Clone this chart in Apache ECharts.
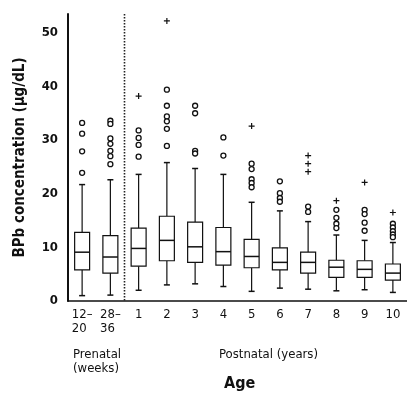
<!DOCTYPE html>
<html>
<head>
<meta charset="utf-8">
<script src="https://cdn.jsdelivr.net/npm/echarts@6/dist/echarts.min.js"></script>
<style>
  html, body { margin: 0; padding: 0; background: #fff; }
  #chart { width: 407px; height: 394px; }
</style>
</head>
<body>
<div id="chart"></div>
<script>
const FONT = "'Liberation Sans Narrow', 'DejaVu Sans Condensed', sans-serif";

const categories = ['12–\n20\u2002', '28–\n36\u2002', '1', '2', '3', '4', '5', '6', '7', '8', '9', '10'];
// box statistics per age group (µg/dL)
const whiskerLow  = [1.0, 1.1, 2.0, 3.0, 3.2, 2.7, 1.8, 2.4, 2.2, 1.9, 2.1, 1.6];
const quartile1   = [5.8, 5.2, 6.5, 7.5, 7.2, 6.7, 6.2, 5.8, 5.2, 4.4, 4.4, 3.9];
const medians     = [9.1, 8.2, 9.8, 11.3, 10.1, 9.2, 8.3, 7.2, 7.2, 6.3, 5.9, 5.2];
const quartile3   = [12.8, 12.2, 13.6, 15.8, 14.7, 13.7, 11.5, 9.9, 9.1, 7.6, 7.5, 6.9];
const whiskerHigh = [21.7, 22.6, 23.6, 25.8, 24.7, 23.6, 18.4, 16.8, 14.8, 12.3, 11.3, 10.9];
// outliers (circles) and extreme values (plus signs)
const outliers = [
  [33.2, 31.2, 27.9, 23.9],
  [33.6, 33.0, 30.3, 29.3, 28.0, 27.0, 25.5],
  [31.8, 30.4, 29.1, 26.9],
  [39.4, 36.4, 34.4, 33.5, 32.1, 28.9],
  [36.4, 35.0, 28.0, 27.5],
  [30.5, 27.1],
  [25.6, 24.6, 22.7, 22.0, 21.2],
  [22.3, 20.1, 19.2, 18.5],
  [17.6, 16.6],
  [17.0, 15.5, 14.4, 13.6],
  [17.0, 16.2, 14.6, 13.1],
  [14.4, 13.7, 13.0, 12.4, 11.9]
];
const extremes = [
  [], [], [38.2], [52.2], [], [], [32.6], [], [27.1, 25.6, 24.1], [18.7], [22.1], [16.5]
];
const yTicks = [0, 10, 20, 30, 40, 50];

const boxData = categories.map((c, i) =>
  [i, whiskerLow[i], quartile1[i], medians[i], quartile3[i], whiskerHigh[i]]);
const outlierData = [];
outliers.forEach((arr, i) => arr.forEach(v => outlierData.push([i, v])));
const extremeData = [];
extremes.forEach((arr, i) => arr.forEach(v => extremeData.push([i, v])));

let mychart = echarts.init(document.getElementById('chart'));

mychart.setOption({
  animation: false,
  backgroundColor: '#fff',
  grid: {
    left: 68,
    top: 14,
    bottom: 93,
    width: 342.6
  },
  xAxis: {
    type: 'category',
    data: categories,
    boundaryGap: true,
    axisLine: { lineStyle: { color: '#111', width: 1.5 } },
    axisTick: { alignWithLabel: true, length: 4, lineStyle: { color: '#111', width: 1.2 } },
    axisLabel: {
      interval: 0,
      margin: 7,
      color: '#111',
      fontFamily: FONT,
      fontSize: 13,
      lineHeight: 14
    },
    splitLine: { show: false }
  },
  yAxis: {
    type: 'value',
    min: 0,
    max: 53.5,
    interval: 10,
    name: 'BPb concentration (μg/dL)',
    nameLocation: 'middle',
    nameGap: 40,
    nameRotate: 90,
    nameTextStyle: { color: '#111', fontFamily: FONT, fontSize: 15, fontWeight: 'bold' },
    axisLine: { show: true, lineStyle: { color: '#111', width: 2 } },
    axisTick: { show: false },
    splitLine: { show: false },
    axisLabel: {
      margin: 10,
      color: '#111',
      fontFamily: FONT,
      fontSize: 13,
      fontWeight: 'bold',
      showMaxLabel: false,
      formatter: v => (yTicks.indexOf(v) >= 0 ? String(v) : '')
    }
  },
  graphic: [
    {
      type: 'text', left: 73, top: 348,
      style: { text: 'Prenatal\n(weeks)', fill: '#111', font: '13px ' + FONT, lineHeight: 14 }
    },
    {
      type: 'text', left: 219, top: 348,
      style: { text: 'Postnatal (years)', fill: '#111', font: '13px ' + FONT, lineHeight: 14 }
    },
    {
      type: 'text', left: 224, top: 376,
      style: { text: 'Age', fill: '#111', font: 'bold 16px ' + FONT }
    }
  ],
  series: [
    {
      name: 'divider',
      type: 'custom',
      silent: true,
      data: [[1]],
      encode: { x: 0 },
      renderItem: function (params, api) {
        const cs = params.coordSys;
        const x = api.coord([api.value(0), 0])[0] + api.size([1, 0])[0] / 2;
        return {
          type: 'line',
          shape: { x1: x, y1: cs.y, x2: x, y2: cs.y + cs.height },
          style: { stroke: '#222', lineWidth: 1.6, lineDash: [1.5, 1.5] }
        };
      }
    },
    {
      name: 'box',
      type: 'custom',
      data: boxData,
      encode: { x: 0, y: [1, 2, 3, 4, 5] },
      renderItem: function (params, api) {
        const i = api.value(0);
        const pLow = api.coord([i, api.value(1)]);
        const pQ1 = api.coord([i, api.value(2)]);
        const pMed = api.coord([i, api.value(3)]);
        const pQ3 = api.coord([i, api.value(4)]);
        const pHigh = api.coord([i, api.value(5)]);
        const cx = pMed[0];
        const half = api.size([1, 0])[0] * 0.265;
        const cap = 3;
        const st = { stroke: '#111', lineWidth: 1.2, fill: null };
        return {
          type: 'group',
          children: [
            { type: 'line', shape: { x1: cx, y1: pQ3[1], x2: cx, y2: pHigh[1] }, style: st },
            { type: 'line', shape: { x1: cx, y1: pQ1[1], x2: cx, y2: pLow[1] }, style: st },
            { type: 'line', shape: { x1: cx - cap, y1: pHigh[1], x2: cx + cap, y2: pHigh[1] }, style: { stroke: '#111', lineWidth: 1.5 } },
            { type: 'line', shape: { x1: cx - cap, y1: pLow[1], x2: cx + cap, y2: pLow[1] }, style: { stroke: '#111', lineWidth: 1.5 } },
            {
              type: 'rect',
              shape: { x: cx - half, y: pQ3[1], width: half * 2, height: pQ1[1] - pQ3[1] },
              style: { stroke: '#111', lineWidth: 1.2, fill: '#fff' }
            },
            { type: 'line', shape: { x1: cx - half, y1: pMed[1], x2: cx + half, y2: pMed[1] }, style: { stroke: '#111', lineWidth: 1.5 } }
          ]
        };
      }
    },
    {
      name: 'outliers',
      type: 'scatter',
      data: outlierData,
      symbol: 'circle',
      symbolSize: 5,
      itemStyle: { color: '#fff', borderColor: '#111', borderWidth: 1.3, opacity: 1 }
    },
    {
      name: 'extremes',
      type: 'scatter',
      data: extremeData,
      symbol: 'path://M2,0H3V2H5V3H3V5H2V3H0V2H2Z',
      symbolSize: 6,
      itemStyle: { color: '#111', opacity: 1 }
    }
  ]
});
</script>
</body>
</html>
